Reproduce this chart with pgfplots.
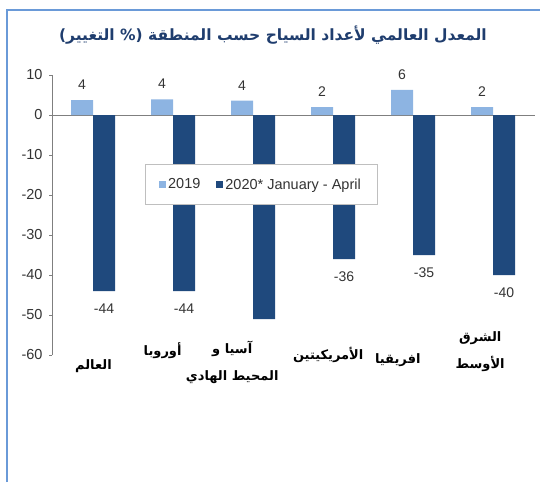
\documentclass[border=0pt]{standalone}
\usepackage{pgfplots}
\pgfplotsset{compat=1.18}
\usepackage{fontspec}
\setmainfont{Liberation Sans}
\newfontfamily\arabicfont[Script=Arabic]{DejaVu Sans}
\TeXXeTstate=1
\definecolor{lightbar}{HTML}{8DB4E2}
\definecolor{darkbar}{HTML}{1F497D}
\definecolor{titleblue}{HTML}{1F3D6E}
\definecolor{framebl}{HTML}{6A9AD8}
\definecolor{axgray}{HTML}{7F7F7F}
\definecolor{txt}{HTML}{333333}
\pgfplotsset{sqleg/.style={legend image code/.code={\fill[##1,draw=none] (0pt,-3.5pt) rectangle (7pt,3.5pt);}}}
\begin{document}
\begin{tikzpicture}[x=1pt,y=1pt]
\draw[framebl, line width=2pt] (7,-482) -- (7,-10) -- (540,-10);
\node[font=\arabicfont\bfseries\fontsize{15.5}{15.5}\selectfont, text=titleblue] at (273,-35) {\beginR المعدل العالمي لأعداد السياح حسب المنطقة (\% التغيير)\endR};
\begin{axis}[
  at={(52pt,-355pt)}, anchor=south west,
  scale only axis, width=483pt, height=280pt,
  xmin=-0.5125, xmax=5.525, ymin=-60, ymax=10,
  ybar=0pt, bar width=22pt,
  axis y line*=left, axis x line*=middle,
  axis line style={axgray},
  tick style={axgray},
  ytick={-60,-50,...,10},
  xtick=\empty,
  tick align=outside, major tick length=3pt,
  yticklabel style={font=\fontsize{14.5}{14.5}\selectfont, text=txt, xshift=-3pt},
  /pgf/number format/assume math mode=true,
  clip=false,
  legend style={at={(axis cs:2.1,-17.4)}, anchor=center, draw=gray!50,
    font=\fontsize{14.5}{14.5}\selectfont, text=txt, legend columns=2,
    inner xsep=14pt, inner ysep=12pt,
    /tikz/every even column/.append style={column sep=14pt}},
  nodes near coords, point meta=explicit symbolic,
]
\addplot[fill=lightbar, draw=none, sqleg,
  every node near coord/.append style={anchor=south, yshift=7pt, font=\fontsize{14}{14}\selectfont, text=txt}]
  coordinates {(0,3.7) [4] (1,3.9) [4] (2,3.6) [4] (3,2) [2] (4,6.3) [6] (5,2) [2]};
\addplot[fill=darkbar, draw=none, sqleg,
  every node near coord/.append style={anchor=north, yshift=-9pt, font=\fontsize{14}{14}\selectfont, text=txt}]
  coordinates {(0,-44) [-44] (1,-44) [-44] (2,-51) [{}] (3,-36) [-36] (4,-35) [-35] (5,-40) [-40]};
\legend{2019, 2020* January - April}
\begin{scope}[every node/.style={font=\arabicfont\bfseries\fontsize{13}{27}\selectfont, align=center, text=black}]
\node at (axis cs:0.006,-62.8) {\beginR العالم\endR};
\node at (axis cs:0.87,-58.9) {\beginR أوروبا\endR};
\node at (axis cs:1.74,-61.75) {\beginR آسيا و\endR\\\beginR المحيط الهادي\endR};
\node at (axis cs:2.94,-60.1) {\beginR الأمريكيتين\endR};
\node at (axis cs:3.81,-61.4) {\beginR افريقيا\endR};
\node at (axis cs:4.84,-59.25) {\beginR الشرق\endR\\\beginR الأوسط\endR};
\end{scope}
\end{axis}
\pgfresetboundingbox
\useasboundingbox (0,0) rectangle (540,-482);
\end{tikzpicture}
\end{document}
